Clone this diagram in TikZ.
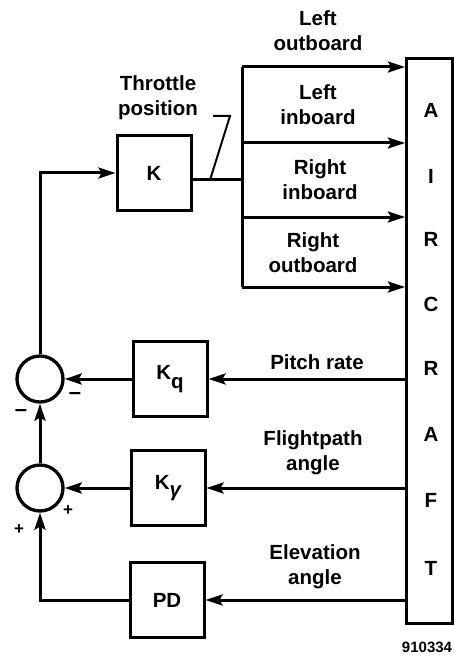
\documentclass[tikz,border=0pt]{standalone}
\usepackage{fontspec}
\setmainfont{Liberation Sans}
\usetikzlibrary{arrows.meta}
\begin{document}
\begin{tikzpicture}[x=1pt,y=-1pt,
  every node/.style={font=\bfseries\fontsize{20.5}{25}\selectfont},
  ln/.style={line width=3pt},
  arr/.style={ln,-{Stealth[length=17pt,width=11pt,inset=3pt]}},
  blk/.style={draw,line width=3pt,minimum width=74,minimum height=75,inner sep=0pt},
  sumnode/.style={draw,circle,line width=3.3pt,minimum size=46,inner sep=0pt},
  lbl/.style={align=center,inner sep=0pt},
  sgn/.style={inner sep=0pt,font=\bfseries\fontsize{17}{17}\selectfont},
  let/.style={inner sep=0pt}]
\useasboundingbox (0,0) rectangle (454,660);
% aircraft
\node[draw,line width=3pt,minimum width=46,minimum height=565,anchor=north west,inner sep=0pt] (ac) at (405,57) {};
\node[let] (l1) at (431,110) {A};
\node[let] (l2) at (431,176) {I};
\node[let] (l3) at (431,239) {R};
\node[let] (l4) at (431,304) {C};
\node[let] (l5) at (431,368) {R};
\node[let] (l6) at (431,434) {A};
\node[let] (l7) at (431,500) {F};
\node[let] (l8) at (431,568) {T};
% blocks
\node[blk] (K) at (154,173) {K};
\node[blk] (Kq) at (170,379) {K\raisebox{-0.4em}{q}};
\node[blk] (Kg) at (168,488) {K\raisebox{-0.35em}{\itshape γ}};
\node[blk] (PD) at (167,600) {PD};
\node[sumnode] (s1) at (40,379) {};
\node[sumnode] (s2) at (40,488) {};
% throttle distribution
\coordinate (kout) at (242,180);
\coordinate (b1) at (242,67);
\coordinate (b2) at (242,143);
\coordinate (b3) at (242,217);
\coordinate (b4) at (242,287);
\draw[ln] (K.east |- kout) -- (kout);
\draw[ln] (b1) -- (b4);
\draw[arr] (b1) -- (ac.west |- b1);
\draw[arr] (b2) -- (ac.west |- b2);
\draw[arr] (b3) -- (ac.west |- b3);
\draw[arr] (b4) -- (ac.west |- b4);
% labels
\node[lbl] (tlo) at (318,31) {Left\\outboard};
\node[lbl] (tli) at (318,105) {Left\\inboard};
\node[lbl] (tri) at (320,180) {Right\\inboard};
\node[lbl] (tro) at (313,253) {Right\\outboard};
\node[lbl] (thr) at (158,98) {Throttle\\position};
\coordinate (ld1) at (213,116);
\coordinate (ld2) at (230,116);
\coordinate (ld3) at (210,180);
\draw[line width=2pt] (ld1) -- (ld2) -- (ld3);
% feedback paths
\draw[arr] (s1.north) |- (K.west);
\draw[arr] (ac.west |- Kq) -- (Kq.east);
\draw[arr] (Kq.west) -- (s1.east);
\draw[arr] (s2.north) -- (s1.south);
\draw[arr] (ac.west |- Kg) -- (Kg.east);
\draw[arr] (Kg.west) -- (s2.east);
\draw[arr] (ac.west |- PD) -- (PD.east);
\draw[arr] (PD.west) -| (s2.south);
\node[lbl] (tpr) at (317,362) {Pitch rate};
\node[lbl] (tfa) at (313,453) {Flightpath\\angle};
\node[lbl] (tea) at (315,567) {Elevation\\angle};
% signs
\node[sgn,font=\bfseries\fontsize{22}{22}\selectfont] (m1) at (75,396) {–};
\node[sgn,font=\bfseries\fontsize{22}{22}\selectfont] (m2) at (21,413) {–};
\node[sgn] (p1) at (68,511) {+};
\node[sgn] (p2) at (19,530) {+};
\node[inner sep=0pt,font=\bfseries\fontsize{15}{15}\selectfont] (num) at (427,647) {910334};
\end{tikzpicture}
\end{document}
